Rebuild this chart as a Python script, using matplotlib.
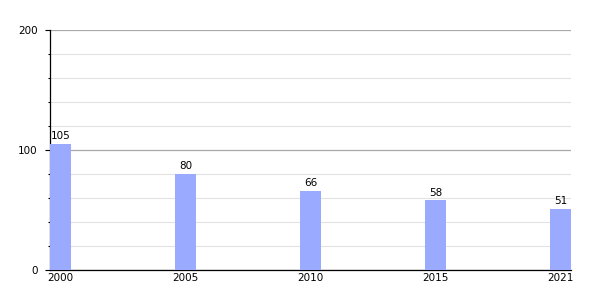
import matplotlib.pyplot as plt
from matplotlib.ticker import MultipleLocator

years = ["2000", "2005", "2010", "2015", "2021"]
values = [105, 80, 66, 58, 51]

fig = plt.figure(figsize=(6, 3), dpi=100)
ax = fig.add_axes([50 / 600, 0.1, 521 / 600, 0.8])

pos = range(len(years))
bars = ax.bar(pos, values, width=0.168, color="#99aaff", zorder=3)
for x, v in zip(pos, values):
    ax.annotate(str(v), (x, v), xytext=(0, 2), textcoords="offset points",
                ha="center", va="bottom", fontsize=7.5)

ax.set_xlim(-0.084, 4.084)
ax.set_ylim(0, 200)
ax.set_xticks(list(pos))
ax.set_xticklabels(years)
ax.yaxis.set_major_locator(MultipleLocator(100))
ax.yaxis.set_minor_locator(MultipleLocator(20))

ax.grid(axis="y", which="minor", color="#e2e2e2", linewidth=0.8, zorder=0)
ax.grid(axis="y", which="major", color="#a8a8a8", linewidth=0.9, zorder=1)

for s in ["top", "right"]:
    ax.spines[s].set_visible(False)
ax.spines["left"].set_linewidth(0.9)
ax.spines["bottom"].set_linewidth(0.9)

ax.tick_params(axis="y", which="major", length=3.6, width=0.8, pad=5.4, labelsize=7.5)
ax.tick_params(axis="y", which="minor", length=1.8, width=0.8)
ax.tick_params(axis="x", length=0, pad=2, labelsize=7.5)

fig.savefig("out.png", dpi=100)
